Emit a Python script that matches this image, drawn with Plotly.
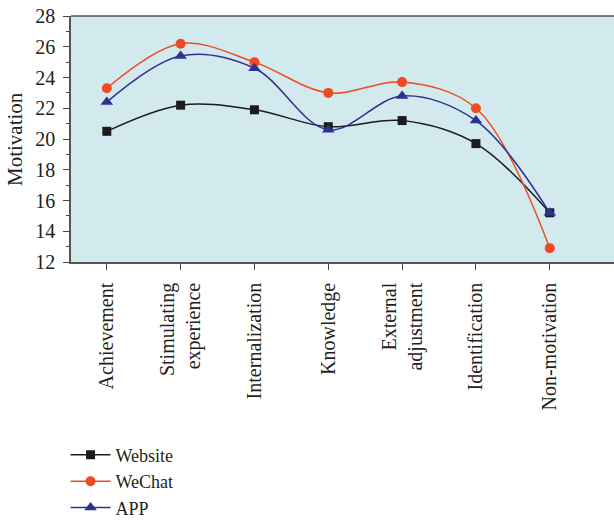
import plotly.graph_objects as go

categories = ["Achievement", "Stimulating<br>experience", "Internalization", "Knowledge",
              "External<br>adjustment", "Identification", "Non-motivation"]
website = [20.5, 22.2, 21.9, 20.8, 21.2, 19.7, 15.2]
wechat = [23.3, 26.2, 25.0, 23.0, 23.7, 22.0, 12.9]
app = [22.4, 25.4, 24.6, 20.6, 22.8, 21.2, 15.2]

FONT = "Liberation Serif"
x = list(range(len(categories)))

fig = go.Figure()
series = [
    ("Website", website, "#1c1c1c", "square", 9),
    ("WeChat", wechat, "#f04a23", "circle", 10),
    ("APP", app, "#2e3192", "triangle-up", 11),
]
for name, vals, color, sym, size in series:
    fig.add_trace(go.Scatter(
        x=x, y=vals, name=name, mode="lines+markers",
        line=dict(color=color, width=1.5, shape="spline", smoothing=1),
        marker=dict(symbol=sym, size=size, color=color),
    ))

fig.update_layout(
    width=614, height=521,
    margin=dict(l=71, r=0, t=16, b=259),
    paper_bgcolor="white",
    plot_bgcolor="#d2eaee",
    font=dict(family=FONT, size=21, color="#231f20"),
    showlegend=True,
    legend=dict(x=-0.01, y=0.162, yref="container", xanchor="left", yanchor="top",
                bgcolor="rgba(0,0,0,0)", font=dict(size=18, family=FONT),
                tracegroupgap=0, itemwidth=40),
    xaxis=dict(
        tickmode="array", tickvals=x, ticktext=categories,
        range=[-0.485, 6.87], tickangle=-90, automargin=False,
        ticks="outside", ticklen=6, tickcolor="#444", tickwidth=1.2,
        showline=True, linecolor="#555", linewidth=1.5, mirror=False,
        showgrid=False, zeroline=False, ticklabelstandoff=5,
        tickfont=dict(family=FONT, size=20),
    ),
    yaxis=dict(
        range=[12, 28], dtick=2, tick0=12, automargin=False,
        ticks="outside", ticklen=6, tickcolor="#444", tickwidth=1.2,
        minor=dict(dtick=1, ticks="outside", ticklen=3, tickcolor="#444", showgrid=False),
        showline=True, linecolor="#555", linewidth=1.5,
        showgrid=False, zeroline=False, ticklabelstandoff=4,
        tickfont=dict(family=FONT, size=20),
    ),
    annotations=[dict(text="Motivation", textangle=-90, xref="paper", yref="paper",
                      x=0, y=0.5, xanchor="center", yanchor="middle", xshift=-56,
                      showarrow=False, font=dict(family=FONT, size=21))],
)
# top border line
fig.add_shape(type="line", xref="paper", yref="paper", x0=0, x1=1, y0=1, y1=1,
              line=dict(color="#555", width=1.5))

fig.write_html("out.html", config={"displayModeBar": False},
               post_script="document.body.style.margin='0';document.body.style.overflow='hidden';")
